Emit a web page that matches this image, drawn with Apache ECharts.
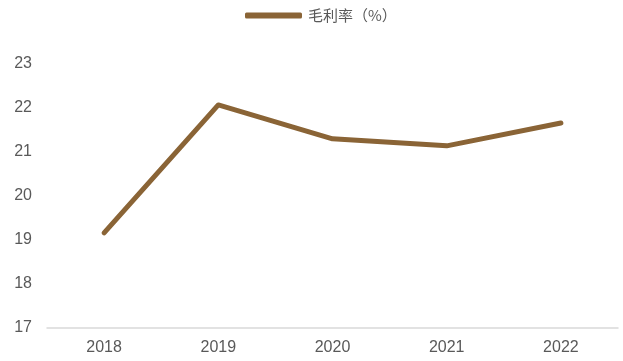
<!DOCTYPE html>
<html>
<head>
<meta charset="utf-8">
<script src="https://cdn.jsdelivr.net/npm/echarts@6/dist/echarts.min.js"></script>
<style>
  html, body { margin: 0; padding: 0; background: #fff; }
  #chart { width: 623px; height: 361px; }
</style>
</head>
<body>
<div id="chart"></div>
<script>
// Gross margin by year
const years = ['2018', '2019', '2020', '2021', '2022'];
const grossMargin = [19.16, 22.07, 21.30, 21.14, 21.66];
const seriesName = '毛利率（%）';

const chart = echarts.init(document.getElementById('chart'));
chart.setOption({
  animation: false,
  legend: {
    top: 3,
    left: 240,
    itemWidth: 57,
    itemHeight: 6,
    icon: 'roundRect',
    textStyle: { color: '#595959', fontSize: 15, fontFamily: 'Noto Sans CJK SC', padding: [0, 0, 0, 1] },
    data: [seriesName]
  },
  grid: { left: 47, right: 5, top: 64, bottom: 33 },
  xAxis: {
    type: 'category',
    data: years,
    boundaryGap: true,
    axisLine: { lineStyle: { color: '#d9d9d9', width: 1.5 } },
    axisTick: { show: false },
    axisLabel: { color: '#595959', fontSize: 16, margin: 12, fontFamily: 'Liberation Sans' }
  },
  yAxis: {
    type: 'value',
    min: 17,
    max: 23,
    interval: 1,
    splitLine: { show: false },
    axisLine: { show: false },
    axisTick: { show: false },
    axisLabel: { color: '#595959', fontSize: 16, margin: 15, fontFamily: 'Liberation Sans' }
  },
  series: [{
    name: seriesName,
    type: 'line',
    data: grossMargin,
    symbol: 'none',
    lineStyle: { color: '#8a6436', width: 5, cap: 'round', join: 'round' },
    itemStyle: { color: '#8a6436' }
  }]
});
</script>
</body>
</html>
